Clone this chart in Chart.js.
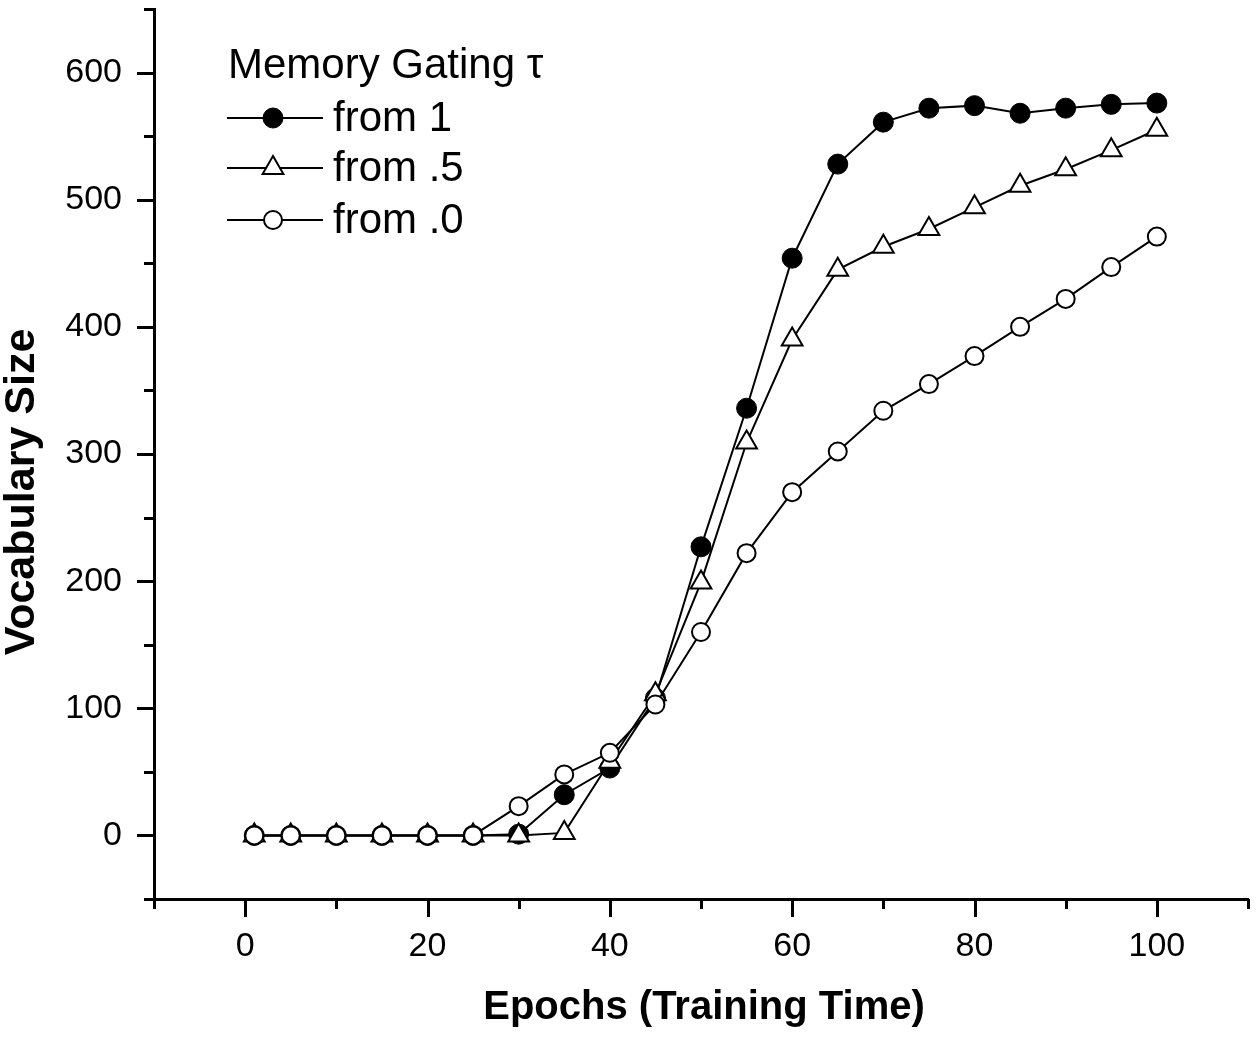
<!DOCTYPE html>
<html><head><meta charset="utf-8">
<script src="https://cdn.jsdelivr.net/npm/chart.js@4.4.1/dist/chart.umd.min.js"></script>
<style>html,body{margin:0;padding:0;background:#fff}canvas{display:block}</style>
</head><body>
<canvas id="c" width="1260" height="1039"></canvas>
<script>
const epochs     = [1, 5, 10, 15, 20, 25, 30, 35, 40, 45, 50, 55, 60, 65, 70, 75, 80, 85, 90, 95, 100];
const fromOne    = [0, 0, 0, 0, 0, 0, 1, 32, 53, 108, 227, 336, 454, 528, 561, 572, 574, 568, 572, 575, 576];
const fromHalf   = [0, 0, 0, 0, 0, 0, 0, 2, 58, 111, 199, 309, 390, 445, 463, 477, 494, 511, 524, 539, 555];
const fromZero   = [0, 0, 0, 0, 0, 0, 23, 48, 65, 103, 160, 222, 270, 302, 334, 355, 377, 400, 422, 447, 471];
const seriesNames = ['from 1', 'from .5', 'from .0'];
const legendTitle = 'Memory Gating \u03C4';
const xTickLabels = [0, 20, 40, 60, 80, 100];
const yTickLabels = [0, 100, 200, 300, 400, 500, 600];
const xTitle = 'Epochs (Training Time)';
const yTitle = 'Vocabulary Size';

const FONT = '"Liberation Sans", Arial, Helvetica, sans-serif';
const pts = arr => arr.map((v, i) => ({x: epochs[i], y: v}));

const styles = [
  {pointStyle: 'circle', pointRadius: 10, pointBackgroundColor: '#000', pointBorderWidth: 1},
  {pointStyle: 'triangle', pointRadius: 12, pointBackgroundColor: '#fff', pointBorderWidth: 2},
  {pointStyle: 'circle', pointRadius: 9, pointBackgroundColor: '#fff', pointBorderWidth: 2}
];
const seriesData = [fromOne, fromHalf, fromZero];
const orders = [2, 1, 0];

const datasets = seriesData.map((d, i) => Object.assign({
  label: seriesNames[i],
  data: pts(d),
  borderColor: '#000',
  borderWidth: 2,
  pointBorderColor: '#000',
  pointHoverRadius: styles[i].pointRadius,
  tension: 0,
  fill: false,
  clip: false,
  order: orders[i]
}, styles[i]));

const decor = {
  id: 'decor',
  afterDraw(chart) {
    const ctx = chart.ctx, a = chart.chartArea;
    const xs = chart.scales.x, ys = chart.scales.y;
    ctx.save();
    ctx.strokeStyle = '#000';
    ctx.lineWidth = 3;
    ctx.lineCap = 'butt';
    // x ticks
    for (let v = xs.min; v <= xs.max + 1e-9; v += 10) {
      const px = Math.round(xs.getPixelForValue(v)) + 0.5;
      const len = (Math.round(v) % 20 === 0) ? 18 : 10;
      ctx.beginPath(); ctx.moveTo(px, a.bottom); ctx.lineTo(px, a.bottom + len); ctx.stroke();
    }
    // y ticks
    for (let v = ys.min; v <= ys.max + 1e-9; v += 50) {
      const py = Math.round(ys.getPixelForValue(v)) + 0.5;
      const len = (Math.round(v) % 100 === 0) ? 17 : 10;
      ctx.beginPath(); ctx.moveTo(a.left, py); ctx.lineTo(a.left - len, py); ctx.stroke();
    }
    // axis titles
    ctx.fillStyle = '#000';
    ctx.textAlign = 'center';
    ctx.textBaseline = 'middle';
    ctx.font = 'bold 40px ' + FONT;
    ctx.fillText(xTitle, (a.left + a.right) / 2 + 3, 1008);
    ctx.save();
    ctx.translate(22, 492);
    ctx.rotate(-Math.PI / 2);
    ctx.font = 'bold 43px ' + FONT;
    ctx.fillText(yTitle, 0, 0);
    ctx.restore();
    // legend
    ctx.font = '42px ' + FONT;
    ctx.textAlign = 'left';
    ctx.fillText(legendTitle, 228, 66);
    const rows = [118, 168, 220];
    chart.data.datasets.forEach((ds, i) => {
      const y = rows[i];
      ctx.lineWidth = 2;
      ctx.strokeStyle = '#000';
      ctx.beginPath(); ctx.moveTo(227, y); ctx.lineTo(323, y); ctx.stroke();
      ctx.fillStyle = ds.pointBackgroundColor;
      ctx.lineWidth = ds.pointBorderWidth;
      Chart.helpers.drawPoint(ctx, {pointStyle: ds.pointStyle, radius: ds.pointRadius, borderWidth: ds.pointBorderWidth, rotation: 0}, 273, y);
      ctx.fillStyle = '#000';
      ctx.fillText(ds.label, 333, y + 1);
    });
    ctx.restore();
  }
};

new Chart(document.getElementById('c'), {
  type: 'line',
  data: {datasets},
  options: {
    responsive: false,
    animation: false,
    events: [],
    layout: {autoPadding: false, padding: {top: 9, right: 12, left: 0, bottom: 0}},
    plugins: {legend: {display: false}, tooltip: {enabled: false}, title: {display: false}},
    scales: {
      x: {
        type: 'linear', min: -10, max: 110,
        afterFit(s) { s.height = 140; s.paddingLeft = 0; s.paddingRight = 0; },
        border: {display: true, color: '#000', width: 3},
        grid: {display: false, drawTicks: true, tickLength: 27},
        ticks: {
          stepSize: 10, autoSkip: false, maxRotation: 0, padding: 0,
          color: '#000', font: {family: FONT, size: 34},
          callback: v => xTickLabels.includes(v) ? String(v) : null
        }
      },
      y: {
        type: 'linear', min: -50, max: 650,
        afterFit(s) { s.width = 154; s.paddingTop = 0; s.paddingBottom = 0; },
        border: {display: true, color: '#000', width: 3},
        grid: {display: false, drawTicks: true, tickLength: 32},
        ticks: {
          stepSize: 50, autoSkip: false, padding: 0,
          color: '#000', font: {family: FONT, size: 34},
          callback: v => yTickLabels.includes(v) ? String(v) : null
        }
      }
    }
  },
  plugins: [decor]
});
</script>
</body></html>
